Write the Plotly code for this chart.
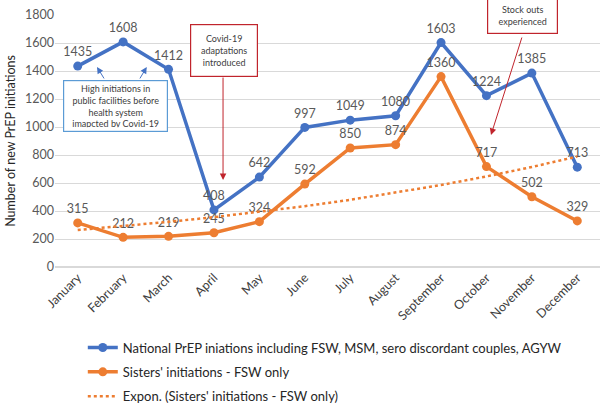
import numpy as np
import plotly.graph_objects as go

months = ["January", "February", "March", "April", "May", "June", "July",
          "August", "September", "October", "November", "December"]
national = [1435, 1608, 1412, 408, 642, 997, 1049, 1080, 1603, 1224, 1385, 713]
sisters = [315, 212, 219, 245, 324, 592, 850, 874, 1360, 717, 502, 329]
y_ticks = [0, 200, 400, 600, 800, 1000, 1200, 1400, 1600, 1800]

BLUE = "#4472C4"
ORANGE = "#ED7D31"
GREY = "#595959"
FONT = "Lato"

# Excel-style exponential trendline (least squares on ln(y))
xi = np.arange(1, len(sisters) + 1)
b, a = np.polyfit(xi, np.log(sisters), 1)
trend = np.exp(a + b * xi)

fig = go.Figure()
fig.add_trace(go.Scatter(
    x=months, y=national, mode="lines+markers+text", legendgroup="g1",
    name="National PrEP iniations including FSW, MSM, sero discordant couples, AGYW",
    line=dict(color=BLUE, width=3.5), marker=dict(size=9, color=BLUE),
    text=[str(v) for v in national], textposition="top center",
    textfont=dict(size=12.5, color=GREY, family=FONT), cliponaxis=False))
fig.add_trace(go.Scatter(
    x=months, y=sisters, mode="lines+markers+text", legendgroup="g2",
    name="Sisters' initiations - FSW only",
    line=dict(color=ORANGE, width=3.5), marker=dict(size=9, color=ORANGE),
    text=[str(v) for v in sisters], textposition="top center",
    textfont=dict(size=12.5, color=GREY, family=FONT), cliponaxis=False))
fig.add_trace(go.Scatter(
    x=months, y=trend, mode="lines", legendgroup="g3",
    name="Expon. (Sisters' initiations - FSW only)",
    line=dict(color=ORANGE, width=2.5, dash="dot")))

annotations = []
box_font = dict(size=9, color="#404040", family=FONT)
annotations.append(dict(
    x=0.84, y=1150, xref="x", yref="y", showarrow=False,
    text="High initiations in<br>public facilities before<br>health system<br>imapcted by Covid-19",
    font=box_font, bordercolor="#5B9BD5", borderwidth=1.2, borderpad=4,
    bgcolor="white", width=95, height=42))
annotations.append(dict(
    x=3.22, y=1550, xref="x", yref="y", showarrow=False,
    text="Covid-19<br>adaptations<br>introduced",
    font=box_font, bordercolor="#C0242C", borderwidth=1.2, borderpad=4,
    bgcolor="white", width=58, height=43))
annotations.append(dict(
    x=9.79, y=1795, xref="x", yref="y", showarrow=False,
    text="Stock outs<br>experienced",
    font=box_font, bordercolor="#C0242C", borderwidth=1.2, borderpad=4,
    bgcolor="white", width=61, height=27))
# arrows
for hx, hy, tx, ty, col in [
    (0.425, 1429, 0.6, 1336, "#4472C4"),
    (1.52, 1429, 1.35, 1336, "#4472C4"),
    (3.2, 621, 3.2, 1364, "#C0242C"),
    (9.1, 943, 9.79, 1650, "#C0242C"),
]:
    annotations.append(dict(
        x=hx, y=hy, ax=tx, ay=ty, xref="x", yref="y", axref="x", ayref="y",
        text="", showarrow=True, arrowhead=2, arrowsize=1.3, arrowwidth=1,
        arrowcolor=col))

fig.update_layout(
    width=600, height=403,
    margin=dict(l=55, r=0, t=15, b=136, autoexpand=False),
    plot_bgcolor="white", paper_bgcolor="white",
    font=dict(family=FONT, color=GREY, size=12),
    annotations=annotations,
    showlegend=True,
    legend=dict(orientation="v", x=0.051, xanchor="left", y=-0.26, yanchor="top",
                font=dict(size=13, color="#262626", family=FONT), itemwidth=30,
                bgcolor="rgba(0,0,0,0)", tracegroupgap=4.5),
)
fig.update_xaxes(type="category", range=[-0.5, 11.5], tickangle=-45, showgrid=False,
                 showline=False, ticks="", automargin=False,
                 tickfont=dict(size=12.5, color="#404040", family=FONT))
fig.update_yaxes(range=[0, 1800], tickvals=y_ticks, showgrid=True, automargin=False,
                 gridcolor="#D9D9D9", gridwidth=1, zeroline=True,
                 zerolinecolor="#D9D9D9", ticks="", showline=False,
                 tickfont=dict(size=12.5, color=GREY, family=FONT),
                 title=dict(text="Number of new PrEP initiations", standoff=6,
                            font=dict(size=12.5, color="#262626", family=FONT)))

fig.write_html("out.html", config={"displayModeBar": False},
               post_script="document.body.style.margin='0';document.body.style.overflow='hidden';")
